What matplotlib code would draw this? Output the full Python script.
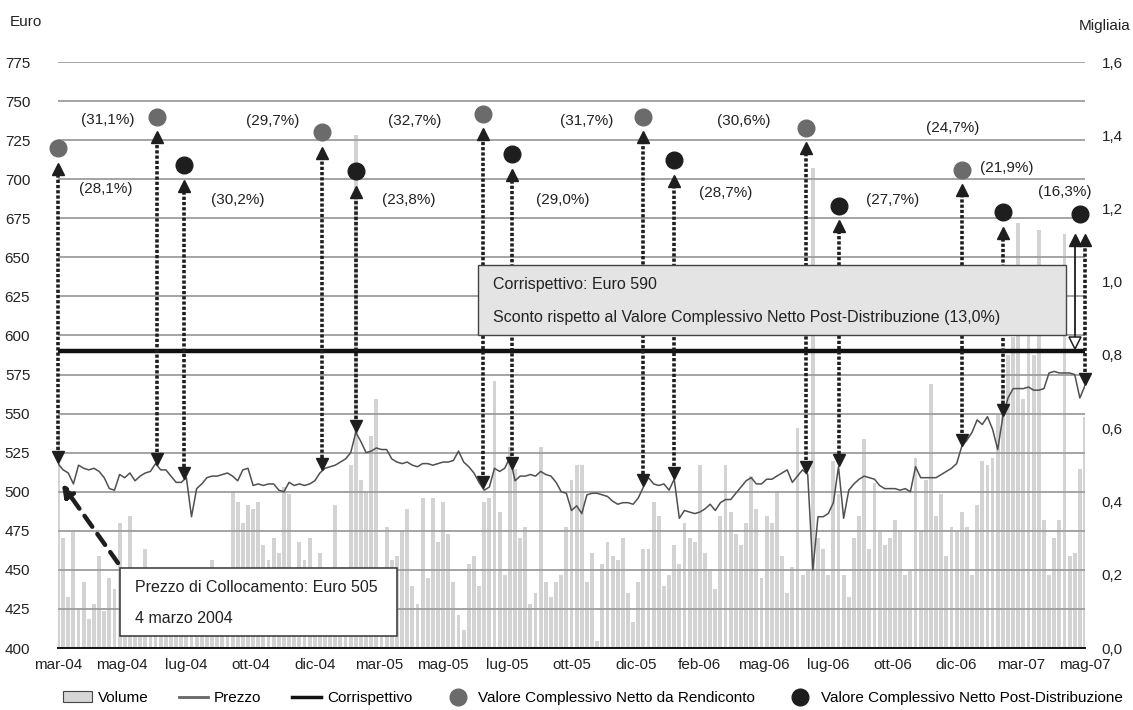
import matplotlib
matplotlib.use("Agg")
import matplotlib.pyplot as plt
import numpy as np
from matplotlib.patches import Rectangle, Patch
from matplotlib.lines import Line2D
from matplotlib.ticker import FuncFormatter

plt.rcParams['font.family'] = ['Liberation Sans', 'DejaVu Sans']

# ---- data -------------------------------------------------------------
SAMPLE_STEP = 4  # trading days between samples

price = [
    518, 514, 512, 505, 517, 515, 514, 515, 513, 509,
    502, 501, 511, 509, 512, 507, 510, 512, 513, 518,
    514, 514, 510, 506, 506, 509, 484, 502, 505, 509,
    510, 510, 511, 512, 510, 507, 514, 515, 504, 505,
    504, 505, 505, 501, 500, 506, 504, 505, 504, 505,
    507, 512, 515, 516, 517, 519, 521, 525, 538, 532,
    525, 526, 528, 527, 527, 521, 519, 518, 519, 517,
    516, 518, 518, 517, 518, 519, 519, 520, 526, 519,
    516, 512, 506, 501, 503, 515, 513, 515, 522, 507,
    510, 510, 511, 510, 513, 511, 510, 506, 500, 499,
    488, 491, 486, 498, 499, 499, 498, 497, 494, 492,
    493, 493, 492, 496, 503, 509, 505, 504, 505, 501,
    508, 483, 488, 487, 486, 487, 489, 492, 488, 493,
    495, 495, 499, 503, 507, 509, 505, 505, 508, 508,
    510, 512, 514, 506, 510, 514, 511, 450, 484, 484,
    486, 493, 516, 483, 501, 505, 508, 510, 509, 508,
    504, 502, 502, 502, 501, 502, 500, 516, 509, 509,
    509, 509, 511, 513, 515, 518, 529, 533, 538, 546,
    543, 548, 540, 527, 548, 560, 566, 566, 566, 567,
    565, 565, 566, 576, 577, 576, 576, 576, 575, 560, 568,
]

volume = [
    0.60, 0.30, 0.14, 0.32, 0.11, 0.18, 0.08, 0.12, 0.25, 0.10,
    0.19, 0.16, 0.34, 0.10, 0.36, 0.08, 0.10, 0.27, 0.12, 0.09,
    0.15, 0.10, 0.13, 0.18, 0.08, 0.14, 0.11, 0.17, 0.09, 0.12,
    0.24, 0.10, 0.14, 0.12, 0.43, 0.40, 0.34, 0.39, 0.38, 0.40,
    0.28, 0.24, 0.30, 0.26, 0.44, 0.42, 0.18, 0.29, 0.24, 0.30,
    0.12, 0.26, 0.08, 0.15, 0.39, 0.14, 0.20, 0.50, 1.40, 0.46,
    0.43, 0.58, 0.68, 0.10, 0.33, 0.24, 0.25, 0.32, 0.38, 0.17,
    0.12, 0.41, 0.19, 0.41, 0.29, 0.40, 0.31, 0.18, 0.09, 0.05,
    0.23, 0.25, 0.17, 0.40, 0.41, 0.73, 0.37, 0.20, 0.55, 0.49,
    0.30, 0.33, 0.12, 0.15, 0.55, 0.18, 0.14, 0.18, 0.20, 0.33,
    0.46, 0.50, 0.50, 0.18, 0.26, 0.02, 0.23, 0.29, 0.25, 0.24,
    0.30, 0.15, 0.07, 0.18, 0.27, 0.27, 0.40, 0.36, 0.17, 0.20,
    0.28, 0.23, 0.34, 0.30, 0.29, 0.50, 0.26, 0.21, 0.16, 0.36,
    0.50, 0.37, 0.31, 0.28, 0.34, 0.47, 0.38, 0.19, 0.36, 0.34,
    0.43, 0.25, 0.15, 0.22, 0.60, 0.20, 0.21, 1.31, 0.30, 0.27,
    0.20, 0.51, 0.42, 0.20, 0.14, 0.30, 0.36, 0.57, 0.27, 0.45,
    0.32, 0.28, 0.30, 0.35, 0.32, 0.20, 0.21, 0.52, 0.32, 0.46,
    0.72, 0.36, 0.42, 0.25, 0.33, 0.32, 0.37, 0.33, 0.20, 0.39,
    0.51, 0.50, 0.52, 0.64, 0.71, 0.80, 0.85, 1.16, 0.68, 0.95,
    0.80, 1.14, 0.35, 0.20, 0.30, 0.35, 1.13, 0.25, 0.26, 0.49, 0.63,
]

tick_labels = ['mar-04', 'mag-04', 'lug-04', 'ott-04', 'dic-04', 'mar-05',
               'mag-05', 'lug-05', 'ott-05', 'dic-05', 'feb-06', 'mag-06',
               'lug-06', 'ott-06', 'dic-06', 'mar-07', 'mag-07']

# Net asset value from the periodic reports (grey) and after distribution (black)
nav_report_days = [0, 77, 206, 331, 456, 583, 704]
nav_report = [720, 740, 730, 742, 740, 733, 706]
nav_report_disc = ['(28,1%)', '(31,1%)', '(29,7%)', '(32,7%)',
                   '(31,7%)', '(30,6%)', '(24,7%)']

nav_post_days = [98, 232, 354, 480, 608, 736, 796]
nav_post = [709, 705, 716, 712, 683, 679, 678]
nav_post_disc = ['(30,2%)', '(23,8%)', '(29,0%)', '(28,7%)',
                 '(27,7%)', '(21,9%)', '(16,3%)']

offer_price = 590
offer_disc = '13,0%'
placement_price = 505
placement_date = '4 marzo 2004'

# ---- layout -----------------------------------------------------------
report_label_pos = [(37, 694), (39, 738), (167, 737), (278, 737),
                    (412, 737), (534, 737), (697, 733)]
post_label_pos = [(140, 687), (273, 687), (393, 687), (520, 691),
                  (650, 687), (739, 707), (784, 692)]

C_GRID = '#9d9d9d'
C_PRICE = '#505050'
C_VOL = '#d3d3d3'
C_GREY = '#6b6b6b'
C_BLACK = '#1e1e1e'

days = np.arange(len(price)) * SAMPLE_STEP
last_day = days[-1]

fig = plt.figure(figsize=(11.33, 7.10), dpi=100)
ax = fig.add_axes([58 / 1133, 1 - 648 / 710, 1027 / 1133, 586 / 710])
axv = ax.twinx()
ax.set_zorder(2)
axv.set_zorder(1)
ax.patch.set_visible(False)

# volume bars (right axis, thousands)
axv.bar(days, volume, width=3.0, color=C_VOL, linewidth=0, zorder=1)
axv.set_ylim(0, 1.6)
axv.set_yticks(np.arange(0, 1.61, 0.2))
axv.yaxis.set_major_formatter(FuncFormatter(lambda v, p: f'{v:.1f}'.replace('.', ',')))
axv.tick_params(axis='y', length=0, pad=12, labelsize=11, labelcolor='#222')
for s in axv.spines.values():
    s.set_visible(False)

# price axis (left, euro)
ax.set_xlim(0, last_day)
ax.set_ylim(400, 775)
ax.set_yticks(np.arange(400, 776, 25))
ax.yaxis.grid(True, color=C_GRID, lw=1.3, zorder=0)
ax.tick_params(axis='y', length=0, pad=20, labelsize=11, labelcolor='#222')
ax.set_xticks(np.linspace(0, last_day, len(tick_labels)))
ax.set_xticklabels(tick_labels)
ax.tick_params(axis='x', length=0, pad=7, labelsize=11, labelcolor='#222')
for side in ('left', 'right', 'top'):
    ax.spines[side].set_visible(False)
ax.spines['bottom'].set_color('#111')
ax.spines['bottom'].set_linewidth(1.4)

ax.plot(days, price, color=C_PRICE, lw=1.1, zorder=3)
ax.axhline(offer_price, color='#111', lw=3.2, zorder=4)

# dotted double arrows from each NAV point down to the market price
HEAD = 4.2  # marker centre offset from tip, in euro units


def nav_arrow(day, top, bottom):
    ax.plot([day, day], [bottom + 2 * HEAD, top - 2 * HEAD], color=C_BLACK,
            lw=2.6, ls=(0, (0.9, 0.55)), zorder=5, solid_capstyle='butt',
            dash_capstyle='butt', clip_on=False)
    ax.plot(day, top - HEAD, marker='^', ms=9, color=C_BLACK, zorder=5,
            clip_on=False)
    ax.plot(day, bottom + HEAD, marker='v', ms=9, color=C_BLACK, zorder=5,
            clip_on=False)


for d, v in zip(nav_report_days, nav_report):
    nav_arrow(d, v - 9, np.interp(d, days, price))
for d, v in zip(nav_post_days[:-1], nav_post[:-1]):
    nav_arrow(d, v - 9, np.interp(d, days, price))

# last distribution: dotted arrow to current price, solid arrow to the offer
d_last, v_last = nav_post_days[-1], nav_post[-1]
nav_arrow(d_last + 4, v_last - 13, price[-1])
ax.plot([d_last - 4, d_last - 4], [offer_price + 2 * HEAD, v_last - 13 - 2 * HEAD],
        color=C_BLACK, lw=1.3, zorder=5)
ax.plot(d_last - 4, v_last - 13 - HEAD, marker='^', ms=9, color=C_BLACK, zorder=5)
ax.plot(d_last - 4, offer_price + HEAD + 1, marker='v', ms=9, mfc='white',
        mec=C_BLACK, mew=1.1, zorder=5)

ax.plot(nav_report_days, nav_report, 'o', ms=12, color=C_GREY, zorder=6, clip_on=False)
ax.plot(nav_post_days, nav_post, 'o', ms=12, color=C_BLACK, zorder=6, clip_on=False)

for (x, y), s in zip(report_label_pos, nav_report_disc):
    ax.text(x, y, s, ha='center', va='center', fontsize=11, color='#222', zorder=7)
for (x, y), s in zip(post_label_pos, nav_post_disc):
    ax.text(x, y, s, ha='center', va='center', fontsize=11, color='#222', zorder=7)

# offer box
ax.add_patch(Rectangle((327, 600.3), 458, 44.8, facecolor='#e4e4e4',
                       edgecolor='#444', lw=1.0, zorder=8))
ax.text(339, 632.3, f'Corrispettivo: Euro {offer_price}', fontsize=11.5,
        color='#222', va='center', zorder=9)
ax.text(339, 611.8,
        f'Sconto rispetto al Valore Complessivo Netto Post-Distribuzione ({offer_disc})',
        fontsize=11.5, color='#222', va='center', zorder=9)

# placement price box
ax.add_patch(Rectangle((48.3, 407.7), 215.8, 43.5, facecolor='white',
                       edgecolor='#333', lw=1.1, zorder=8))
ax.text(60, 439, f'Prezzo di Collocamento: Euro {placement_price}', fontsize=11.5,
        color='#222', va='center', zorder=9)
ax.text(60, 418.6, placement_date, fontsize=11.5, color='#222', va='center', zorder=9)
ax.annotate('', xy=(3, placement_price), xytext=(46.7, 454.4),
            arrowprops=dict(arrowstyle='-|>,head_length=0.7,head_width=0.35',
                            lw=3.2, ls=(0, (3, 2)), color=C_BLACK,
                            shrinkA=0, shrinkB=0), zorder=8)

fig.text(10 / 1133, 1 - 22 / 710, 'Euro', fontsize=11, color='#222', va='center')
fig.text(1131 / 1133, 1 - 26 / 710, 'Migliaia', fontsize=11, color='#222',
         va='center', ha='right')

handles = [
    Patch(facecolor='#d6d6d6', edgecolor='#444', lw=0.8, label='Volume'),
    Line2D([], [], color='#666', lw=2, label='Prezzo'),
    Line2D([], [], color='#111', lw=2.5, label='Corrispettivo'),
    Line2D([], [], ls='none', marker='o', ms=12, color=C_GREY,
           label='Valore Complessivo Netto da Rendiconto'),
    Line2D([], [], ls='none', marker='o', ms=12, color=C_BLACK,
           label='Valore Complessivo Netto Post-Distribuzione'),
]
fig.legend(handles=handles, loc='center', bbox_to_anchor=(0.523, 0.017), ncol=5,
           frameon=False, fontsize=11, handlelength=1.9,
           handletextpad=0.4, columnspacing=2.0)

fig.savefig('out.png', dpi=100)
